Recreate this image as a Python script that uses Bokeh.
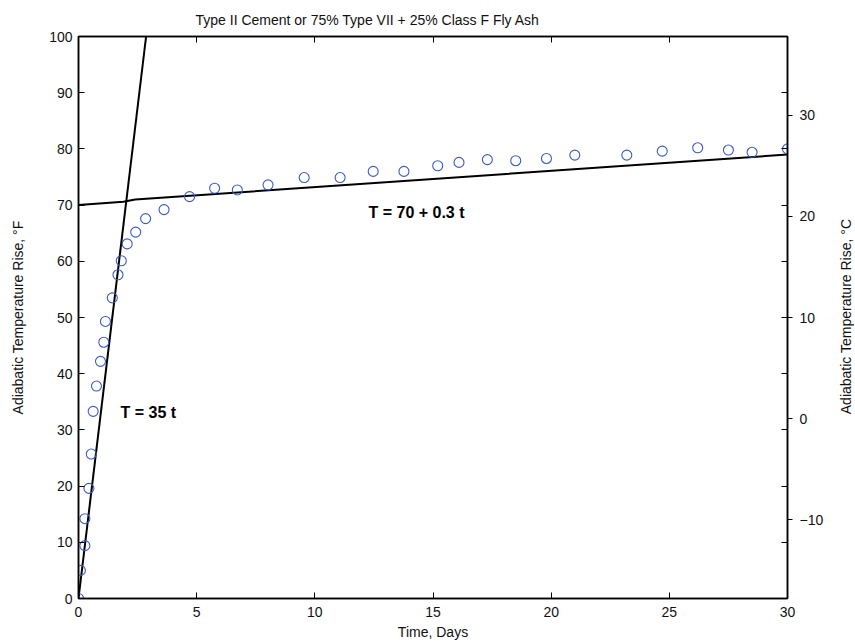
from bokeh.plotting import figure
from bokeh.models import Range1d, LinearAxis, FixedTicker, Div
from bokeh.layouts import row
from bokeh.embed import file_html
from bokeh.resources import INLINE
from bokeh.core.properties import value

# ---- data ----
time_days = [0.0, 0.08, 0.27, 0.27, 0.44, 0.54, 0.62, 0.76, 0.93, 1.07, 1.14,
             1.43, 1.67, 1.81, 2.06, 2.42, 2.84, 3.62, 4.70, 5.76, 6.72, 8.02,
             9.55, 11.07, 12.47, 13.77, 15.2, 16.1, 17.3, 18.5, 19.8, 21.0,
             23.2, 24.7, 26.2, 27.5, 28.5, 30.0]
temp_f = [0.0, 5.0, 9.4, 14.2, 19.6, 25.7, 33.3, 37.8, 42.2, 45.6, 49.3,
          53.5, 57.6, 60.1, 63.1, 65.2, 67.6, 69.2, 71.5, 73.0, 72.7, 73.6,
          74.9, 74.9, 76.0, 76.0, 77.0, 77.6, 78.1, 77.9, 78.3, 78.9,
          78.9, 79.6, 80.2, 79.8, 79.4, 80.0]

early_fit_t = [0.0, 2.86]          # T = 35 t
early_fit_T = [0.0, 100.0]
late_fit_t = [0.0, 1.9, 2.4, 30.0]  # T = 70 + 0.3 t
late_fit_T = [70.0, 70.6, 71.0, 79.0]

annot_x = [1.78, 12.27]
annot_y = [33.1, 68.7]
annot_text = ["T = 35 t", "T = 70 + 0.3 t"]

x_ticks = [0, 5, 10, 15, 20, 25, 30]
y_ticks_f = [0, 10, 20, 30, 40, 50, 60, 70, 80, 90, 100]
y_ticks_c = [-10, 0, 10, 20, 30]

title_text = "Type II Cement or 75% Type VII + 25% Class F Fly Ash"
x_title = "Time, Days"
y_title_f = "Adiabatic Temperature Rise, \u00b0F"
y_title_c = "Adiabatic Temperature Rise, \u00b0C"

FONT = "Liberation Sans"
f_lo, f_hi = 0, 100
t_lo, t_hi = 0, 30


def f_to_c(f):
    return (f - 32.0) * 5.0 / 9.0


FW, FH = 709, 562
BL, BR, BT, BB = 78, 50, 36, 45
p = figure(frame_width=FW, frame_height=FH,
           x_range=Range1d(t_lo, t_hi), y_range=Range1d(f_lo, f_hi),
           output_backend="svg", toolbar_location=None,
           min_border_left=BL, min_border_right=BR,
           min_border_top=BT, min_border_bottom=BB,
           background_fill_color="white", border_fill_color="white")

p.grid.visible = False
p.outline_line_color = "black"
p.outline_line_width = 1.5

# title
p.title.text = title_text
p.title.align = "left"
p.title.offset = 117
p.title.text_font = FONT
p.title.text_font_size = "14px"
p.title.text_font_style = "normal"
p.title.text_color = "#111111"
p.title.standoff = 18

# bottom axis
xa = p.xaxis[0]
xa.ticker = FixedTicker(ticks=x_ticks)
xa.axis_label = x_title
# left axis
ya = p.yaxis[0]
ya.ticker = FixedTicker(ticks=y_ticks_f)
ya.axis_label = y_title_f

for ax in (xa, ya):
    ax.major_tick_in = 6
    ax.major_tick_out = 0
    ax.minor_tick_line_color = None
    ax.axis_line_color = "black"
    ax.axis_line_width = 1.5
    ax.major_tick_line_color = "black"
    ax.major_label_text_font = FONT
    ax.major_label_text_font_size = "14px"
    ax.major_label_text_color = "#111111"
    ax.axis_label_text_font = FONT
    ax.axis_label_text_font_size = "14px"
    ax.axis_label_text_font_style = "normal"
    ax.axis_label_text_color = "#111111"

xa.major_label_standoff = 8
xa.axis_label_standoff = 4
ya.major_label_standoff = 6
ya.axis_label_standoff = 20

# top mirror axis (ticks only)
top = LinearAxis(ticker=FixedTicker(ticks=x_ticks), major_tick_in=6, major_tick_out=0,
                 minor_tick_line_color=None, major_label_text_font_size="10px",
                 major_label_overrides={t: "" for t in x_ticks},
                 axis_line_color="black", axis_line_width=1.5,
                 major_label_standoff=0)
p.add_layout(top, "above")

# right axis in Celsius, with inward mirror ticks of the Fahrenheit ticks
p.extra_y_ranges = {"c": Range1d(f_to_c(f_lo), f_to_c(f_hi))}
right = LinearAxis(y_range_name="c",
                   ticker=FixedTicker(ticks=y_ticks_c,
                                      minor_ticks=[f_to_c(v) for v in y_ticks_f]),
                   major_tick_in=0, major_tick_out=5,
                   minor_tick_in=6, minor_tick_out=0,
                   minor_tick_line_color="black",
                   axis_line_color="black", axis_line_width=1.5,
                   major_label_text_font=FONT, major_label_text_font_size="14px",
                   major_label_text_color="#111111",
                   major_label_standoff=7)
p.add_layout(right, "right")

# fit lines
p.line(early_fit_t, early_fit_T, line_color="black", line_width=2)
p.line(late_fit_t, late_fit_T, line_color="black", line_width=2)

# measured data
p.scatter(time_days, temp_f, marker="circle", size=10, fill_color=None,
          line_color="#3a5bc7", line_width=1.1)

# annotations
p.text(x=annot_x, y=annot_y, text=annot_text, text_font=value(FONT),
       text_font_style="bold", text_font_size="16px", text_baseline="middle",
       text_align="left", text_color="black")

# right-hand axis title (reads bottom-to-top), centred on the plot frame
DW = 855 - (BL + FW + BR)
right_title = Div(
    text=('<div style="width:%dpx;height:%dpx;margin-top:%dpx;display:flex;'
          'align-items:center;justify-content:center;">'
          '<span style="writing-mode:vertical-rl;transform:rotate(180deg);'
          'white-space:nowrap;font-family:\'%s\';font-size:14px;color:#111111;">%s</span>'
          '</div>') % (DW, FH, BT, FONT, y_title_c),
    width=DW, height=BT + FH + BB, margin=0)

layout = row(p, right_title, spacing=0)
open("out.html", "w").write(file_html(layout, INLINE))
